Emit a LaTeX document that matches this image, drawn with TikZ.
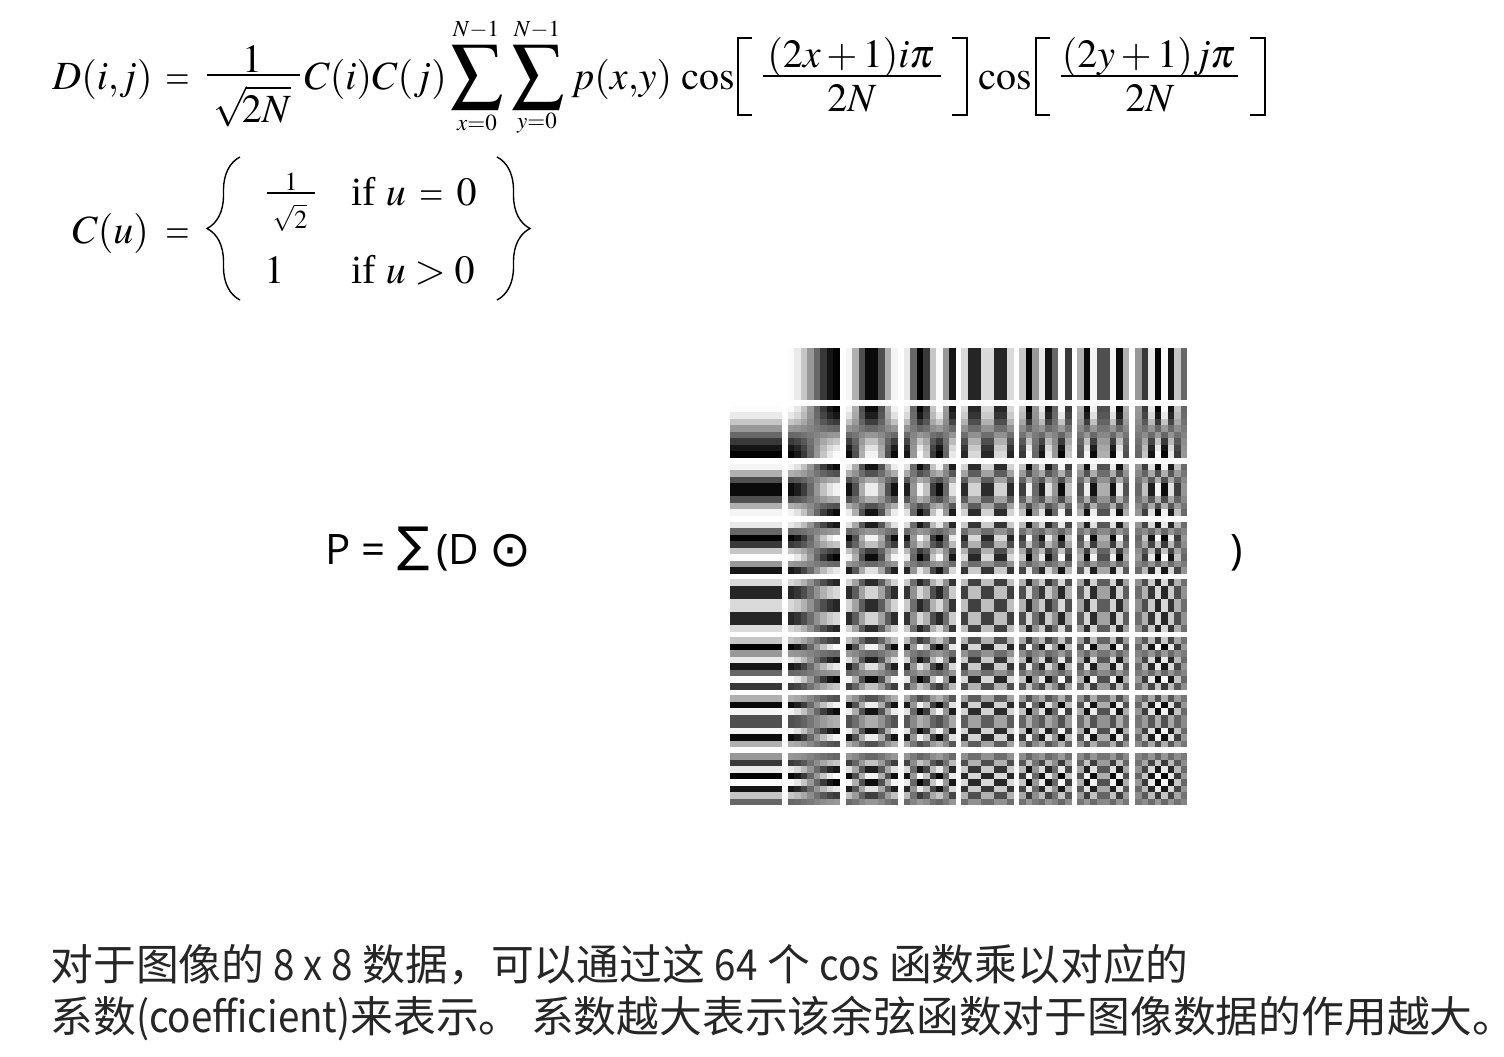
\documentclass[tikz,border=0pt]{standalone}
\usepackage{mathptmx}
\usepackage{fontspec}
\usepackage{amsmath}
\usetikzlibrary{decorations.pathreplacing}
\newfontfamily\cjkfont{Noto Sans CJK SC}
\newfontfamily\narrowfont[FakeStretch=0.9]{Noto Sans CJK SC}
\newfontfamily\labelfont{Open Sans}
\newfontfamily\symfont{DejaVu Sans}
\setmainfont{Liberation Serif}
\newcommand{\thineq}{\mathrel{\scalebox{0.78}[1]{$=$}}}

\tikzset{
  mathtext/.style={anchor=base west,inner sep=0pt,font=\fontsize{20}{24}\selectfont},
  mathmid/.style={anchor=base,inner sep=0pt,font=\fontsize{20}{24}\selectfont},
  mathsmall/.style={anchor=base,inner sep=0pt,font=\fontsize{13}{15}\selectfont},
  mathlimit/.style={inner sep=0pt,font=\fontsize{11.5}{14}\selectfont},
  bigsum/.style={inner sep=0pt,font=\fontsize{26}{30}\selectfont},
  fracbar/.style={line width=0.65pt},
  bracket/.style={line width=0.9pt},
  bigbrace/.style={line width=0.7pt,decorate,decoration={brace,amplitude=16.5pt}},
  bodytext/.style={anchor=base west,inner sep=0pt,text=black!85,font=\fontsize{21.4}{26}\selectfont\cjkfont},
  plaintext/.style={anchor=base west,inner sep=0pt,font=\fontsize{21}{26}\selectfont\labelfont},
}

\begin{document}
\begin{tikzpicture}[x=0.5pt,y=-0.5pt]

\useasboundingbox (0,0) rectangle (1504,1056);

% first formula
\node [mathtext] (eqD) at (52,89) {$D(i{,}j)$};
\node [mathtext] (eqDis) at (165,89) {$\thineq$};
\node [mathmid] (rootNum) at (252,72) {$1$};
\node [mathmid] (rootDen) at (252,122) {$\sqrt{\mkern-2mu 2N}$};
\draw [fracbar] (207,75) -- (300,75);
\node [mathtext] (eqCC) at (304,89) {$C(i)C(j)$};
\node [bigsum] (sumX) at (477,77) {$\displaystyle\sum$};
\node [bigsum] (sumY) at (538,77) {$\displaystyle\sum$};
\node [mathlimit] (topX) at (476,30) {$N{-}1$};
\node [mathlimit] (topY) at (537,30) {$N{-}1$};
\node [mathlimit] (botX) at (477,123) {$x{=}0$};
\node [mathlimit] (botY) at (537,123) {$y{=}0$};
\node [mathtext] (eqP) at (571,89) {$p(x{,}y)$};
\node [mathtext] (cosA) at (681,89) {$\cos$};
\draw [bracket] (752,38) -- (738,38) -- (738,115) -- (752,115);
\node [mathmid] (numA) at (851,67) {$(2x+1)i\pi$};
\node [mathmid] (denA) at (852,111) {$2N$};
\draw [fracbar] (763,76) -- (941,76);
\draw [bracket] (952,38) -- (967,38) -- (967,115) -- (952,115);
\node [mathtext] (cosB) at (978,89) {$\cos$};
\draw [bracket] (1050,38) -- (1036,38) -- (1036,115) -- (1050,115);
\node [mathmid] (numB) at (1149,67) {$(2y+1)j\pi$};
\node [mathmid] (denB) at (1150,111) {$2N$};
\draw [fracbar] (1061,76) -- (1238,76);
\draw [bracket] (1250,38) -- (1265,38) -- (1265,115) -- (1250,115);

% second formula
\node [mathtext] (eqC) at (72,243) {$C(u)$};
\node [mathtext] (eqCis) at (165,243) {$\thineq$};
\draw [bigbrace] (240,300) -- (240,157);
\node [mathsmall] (smallNum) at (291,190) {$1$};
\node [mathsmall] (smallDen) at (290,228) {$\sqrt{2}$};
\draw [fracbar] (267,193) -- (315,193);
\node [mathtext] (caseA) at (351,205) {if $u\,\thineq\,0$};
\node [mathtext] (oneB) at (264,283) {$1$};
\node [mathtext] (caseB) at (351,283) {if $u>0$};
\draw [bigbrace] (497,157) -- (497,300);

% basis functions
\foreach \row in {0,...,7}
  \foreach \col in {0,...,7}
    \foreach \yy in {0,...,7}
      \foreach \xx in {0,...,7} {
        \pgfmathsetmacro\tone{50-50*cos((2*\xx+1)*\col*11.25)*cos((2*\yy+1)*\row*11.25)}
        \fill [black!\tone] (730+57.86*\col+6.5*\xx,348+57.86*\row+6.5*\yy) rectangle +(6.8,6.8);
      }

% sum
\node [plaintext] (lblP) at (325,564) {P =};
\node [plaintext] (lblSum) at (397,561) {\symfont\fontsize{24}{26}\selectfont\char"2211};
\node [plaintext] (lblD) at (436,564) {(D};
\node [plaintext] (lblDot) at (489,566) {\symfont\fontsize{25}{26}\selectfont\char"2299};
\node [plaintext] (lblEnd) at (1230,564) {)};

% text
\node [bodytext] (line1) at (50,980) {对于图像的 {\narrowfont 8 x 8} 数据，可以通过这 {\narrowfont 64} 个 {\narrowfont cos} 函数乘以对应的};
\node [bodytext] (line2) at (50,1032) {系数{\narrowfont(coefficient)}来表示。 系数越大表示该余弦函数对于图像数据的作用越大。};

\end{tikzpicture}
\end{document}
